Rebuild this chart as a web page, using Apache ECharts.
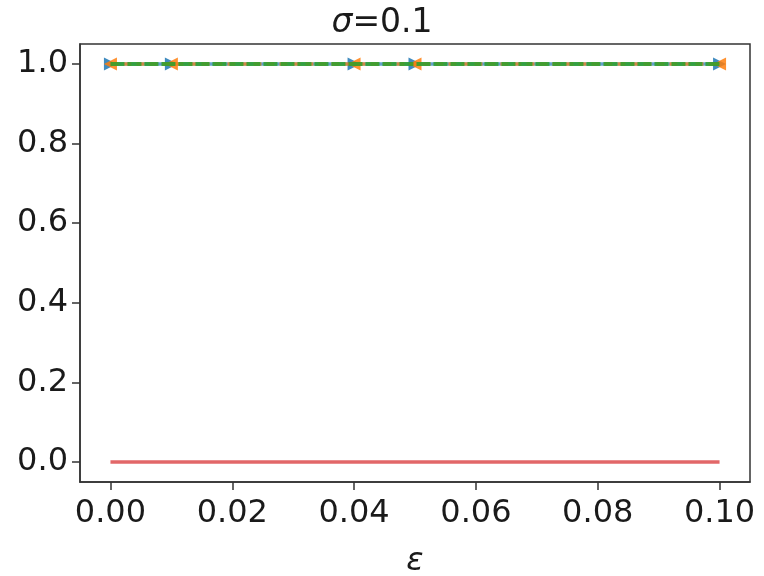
<!DOCTYPE html>
<html>
<head>
<meta charset="utf-8">
<script src="https://cdn.jsdelivr.net/npm/echarts@6/dist/echarts.min.js"></script>
<style>
  html, body { margin: 0; padding: 0; background: #fff; }
  #chart { width: 764px; height: 576px; }
</style>
</head>
<body>
<div id="chart"></div>
<script>
// data
var epsValues = [0, 0.01, 0.04, 0.05, 0.1]
var blueValues = [1, 1, 1, 1, 1]
var orangeValues = [1, 1, 1, 1, 1]
var greenValues = [1, 1, 1, 1, 1]
var redX = [0, 0.1]
var redValues = [0, 0]
var xTicks = ['0.00', '0.02', '0.04', '0.06', '0.08', '0.10']
var yTicks = ['0.0', '0.2', '0.4', '0.6', '0.8', '1.0']

function pairs(xs, ys) {
  return xs.map(function(x, i) { return [x, ys[i]] })
}

var font = 'DejaVu Sans'
var chart = echarts.init(document.getElementById('chart'))

chart.setOption({
  animation: false,
  title: {
    text: '{i|σ}=0.1',
    left: 'center',
    top: 2,
    textStyle: {
      fontFamily: font, fontSize: 33, fontWeight: 'normal', color: '#1a1a1a',
      rich: { i: { fontFamily: font, fontSize: 33, fontStyle: 'italic', color: '#1a1a1a' } }
    }
  },
  grid: { left: 80, right: 14, top: 44, bottom: 94, outerBoundsMode: 'none', containLabel: false },
  xAxis: {
    type: 'value',
    min: -0.005,
    max: 0.105,
    interval: 0.02,
    name: 'ε',
    nameLocation: 'middle',
    nameGap: 64,
    nameTextStyle: { fontFamily: font, fontSize: 32, fontStyle: 'italic', color: '#1a1a1a' },
    axisLine: { onZero: false, lineStyle: { color: '#333', width: 1.5 } },
    axisTick: {
      show: true, length: 8, lineStyle: { color: '#333', width: 1.5 },
      customValues: [0, 0.02, 0.04, 0.06, 0.08, 0.1]
    },
    axisLabel: {
      fontFamily: font, fontSize: 32, color: '#1a1a1a', margin: 16,
      customValues: [0, 0.02, 0.04, 0.06, 0.08, 0.1],
      formatter: function(v) { return xTicks[Math.round(v / 0.02)] }
    },
    splitLine: { show: false }
  },
  yAxis: {
    type: 'value',
    min: -0.05,
    max: 1.05,
    axisLine: { show: true, onZero: false, lineStyle: { color: '#333', width: 1.5 } },
    axisTick: {
      show: true, length: 8, lineStyle: { color: '#333', width: 1.5 },
      customValues: [0, 0.2, 0.4, 0.6, 0.8, 1.0]
    },
    axisLabel: {
      fontFamily: font, fontSize: 32, color: '#1a1a1a', margin: 12,
      customValues: [0, 0.2, 0.4, 0.6, 0.8, 1.0],
      formatter: function(v) { return yTicks[Math.round(v / 0.2)] }
    },
    splitLine: { show: false }
  },
  series: [
    {
      type: 'line',
      data: pairs(redX, redValues),
      symbol: 'none',
      lineStyle: { color: '#d62728', width: 3.5, opacity: 0.7 },
      z: 2
    },
    {
      type: 'line',
      data: pairs(epsValues, blueValues),
      symbol: 'triangle',
      symbolSize: 13,
      symbolRotate: -90,
      itemStyle: { color: '#1f77b4', opacity: 0.85 },
      lineStyle: { color: '#1f77b4', width: 3.5, opacity: 0.7 },
      z: 3
    },
    {
      type: 'line',
      data: pairs(epsValues, orangeValues),
      symbol: 'triangle',
      symbolSize: 13,
      symbolRotate: 90,
      itemStyle: { color: '#ff7f0e', opacity: 0.85 },
      lineStyle: { color: '#ff7f0e', width: 3.5, opacity: 0.7, type: [8, 5] },
      z: 4
    },
    {
      type: 'line',
      data: pairs(epsValues, greenValues),
      symbol: 'none',
      lineStyle: { color: '#2ca02c', width: 4, opacity: 0.85, type: [14, 3] },
      z: 5
    }
  ]
})
// box on top and right
chart.setOption({
  graphic: [{
    type: 'rect',
    shape: { x: 80, y: 44, width: 670, height: 438 },
    style: { fill: 'none', stroke: '#333', lineWidth: 1.5 },
    silent: true
  }]
})
</script>
</body>
</html>
